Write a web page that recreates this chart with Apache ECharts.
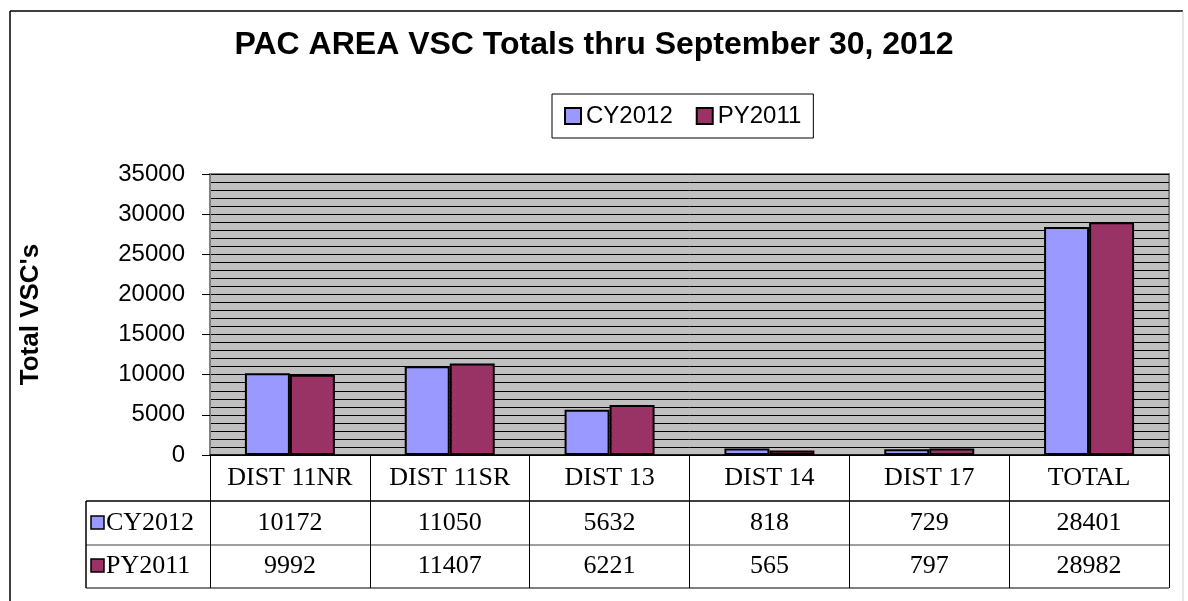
<!DOCTYPE html>
<html>
<head>
<meta charset="utf-8">
<title>PAC AREA VSC Totals</title>
<script src="https://cdn.jsdelivr.net/npm/echarts@6/dist/echarts.min.js"></script>
<style>
  html, body { margin: 0; padding: 0; background: #fff; }
  #chart { width: 1188px; height: 601px; }
</style>
</head>
<body>
<div id="chart"></div>
<script>
// data
const categories = ['DIST 11NR', 'DIST 11SR', 'DIST 13', 'DIST 14', 'DIST 17', 'TOTAL'];
const cy2012 = [10172, 11050, 5632, 818, 729, 28401];
const py2011 = [9992, 11407, 6221, 565, 797, 28982];
const seriesNames = ['CY2012', 'PY2011'];
const seriesColors = ['#9999FF', '#993366'];
const yTicks = [0, 5000, 10000, 15000, 20000, 25000, 30000, 35000];

const SANS = 'Liberation Sans, Arial, sans-serif';
const SERIF = 'Liberation Serif, Times New Roman, serif';

const chart = echarts.init(document.getElementById('chart'));

const option = {
  animation: false,
  backgroundColor: '#fff',
  title: {
    text: 'PAC AREA VSC Totals thru September 30, 2012',
    left: 'center',
    top: 29,
    padding: 0,
    textStyle: { fontFamily: SANS, fontSize: 32, fontWeight: 'bold', color: '#000' }
  },
  legend: {
    left: 552,
    top: 94,
    padding: [8, 12],
    itemWidth: 16,
    itemHeight: 16,
    itemGap: 23,
    borderColor: '#000',
    borderWidth: 1,
    icon: 'rect',
    itemStyle: { borderColor: '#000', borderWidth: 2 },
    textStyle: { fontFamily: SANS, fontSize: 24, lineHeight: 28, color: '#000' },
    data: seriesNames
  },
  grid: {
    left: 210,
    right: 19,
    top: 174,
    height: 281,
    show: true,
    backgroundColor: '#C0C0C0',
    borderColor: '#808080',
    borderWidth: 2
  },
  xAxis: {
    type: 'category',
    data: categories,
    axisLine: { lineStyle: { color: '#000', width: 1.5 } },
    axisTick: { show: true, interval: 0, length: 133, lineStyle: { color: '#000', width: 1 } },
    axisLabel: {
      interval: 0,
      margin: 10,
      fontFamily: SERIF,
      fontSize: 26,
      color: '#000'
    },
    splitLine: { show: false }
  },
  yAxis: {
    type: 'value',
    min: yTicks[0],
    max: yTicks[yTicks.length - 1],
    interval: 5000,
    name: "Total VSC's",
    nameLocation: 'middle',
    nameRotate: 90,
    nameGap: 166,
    nameTextStyle: { fontFamily: SANS, fontSize: 26, fontWeight: 'bold', color: '#000' },
    axisLine: { show: true, lineStyle: { color: '#808080', width: 2 } },
    axisTick: { show: true, length: 8, lineStyle: { color: '#000' } },
    axisLabel: {
      margin: 25,
      fontFamily: SANS,
      fontSize: 24,
      color: '#000',
      formatter: function (v) { return String(v); }
    },
    splitLine: { show: true, lineStyle: { color: '#000', width: 1 } },
    minorTick: { show: false, splitNumber: 5 },
    minorSplitLine: { show: true, lineStyle: { color: '#000', width: 1 } }
  },
  series: [
    {
      name: seriesNames[0],
      type: 'bar',
      data: cy2012,
      barWidth: 45,
      barGap: '0%',
      itemStyle: { color: seriesColors[0], borderColor: '#000', borderWidth: 2 }
    },
    {
      name: seriesNames[1],
      type: 'bar',
      data: py2011,
      barWidth: 45,
      barGap: '0%',
      itemStyle: { color: seriesColors[1], borderColor: '#000', borderWidth: 2 }
    }
  ]
};

chart.setOption(option);

// data table under the axis, placed from the axis scale
const tableLeft = 86;
const tableRight = 1169;
const rowTops = [501, 545, 588];
const rowCenters = [523, 566];
const rows = [cy2012, py2011];

const graphics = [];
// outer chart frame
graphics.push({ type: 'line', shape: { x1: 10, y1: 11, x2: 1183, y2: 11 }, style: { stroke: '#000', lineWidth: 1.5 } });
graphics.push({ type: 'line', shape: { x1: 10, y1: 11, x2: 10, y2: 601 }, style: { stroke: '#000', lineWidth: 1.5 } });
graphics.push({ type: 'line', shape: { x1: 1183, y1: 11, x2: 1183, y2: 601 }, style: { stroke: '#d0d0d0', lineWidth: 1 } });

// table grid lines
graphics.push({ type: 'line', shape: { x1: tableLeft, y1: rowTops[0], x2: tableRight, y2: rowTops[0] }, style: { stroke: '#000', lineWidth: 1.5 } });
graphics.push({ type: 'line', shape: { x1: tableLeft, y1: rowTops[1], x2: tableRight, y2: rowTops[1] }, style: { stroke: '#808080', lineWidth: 1.5 } });
graphics.push({ type: 'line', shape: { x1: tableLeft, y1: rowTops[2], x2: tableRight, y2: rowTops[2] }, style: { stroke: '#808080', lineWidth: 2 } });
graphics.push({ type: 'line', shape: { x1: tableLeft, y1: rowTops[0], x2: tableLeft, y2: rowTops[2] }, style: { stroke: '#000', lineWidth: 1.5 } });

rows.forEach(function (vals, r) {
  const cy = rowCenters[r];
  // legend key in the table
  graphics.push({
    type: 'rect',
    shape: { x: 91, y: cy - 7, width: 13, height: 13 },
    style: { fill: seriesColors[r], stroke: '#000', lineWidth: 1.5 }
  });
  graphics.push({
    type: 'text',
    x: 106,
    y: cy,
    style: { text: seriesNames[r], font: '26px ' + SERIF, fill: '#000', verticalAlign: 'middle', align: 'left' }
  });
  vals.forEach(function (v, i) {
    const px = chart.convertToPixel({ xAxisIndex: 0 }, categories[i]);
    graphics.push({
      type: 'text',
      x: px,
      y: cy,
      style: { text: String(v), font: '26px ' + SERIF, fill: '#000', align: 'center', verticalAlign: 'middle' }
    });
  });
});

chart.setOption({ graphic: graphics });
</script>
</body>
</html>
